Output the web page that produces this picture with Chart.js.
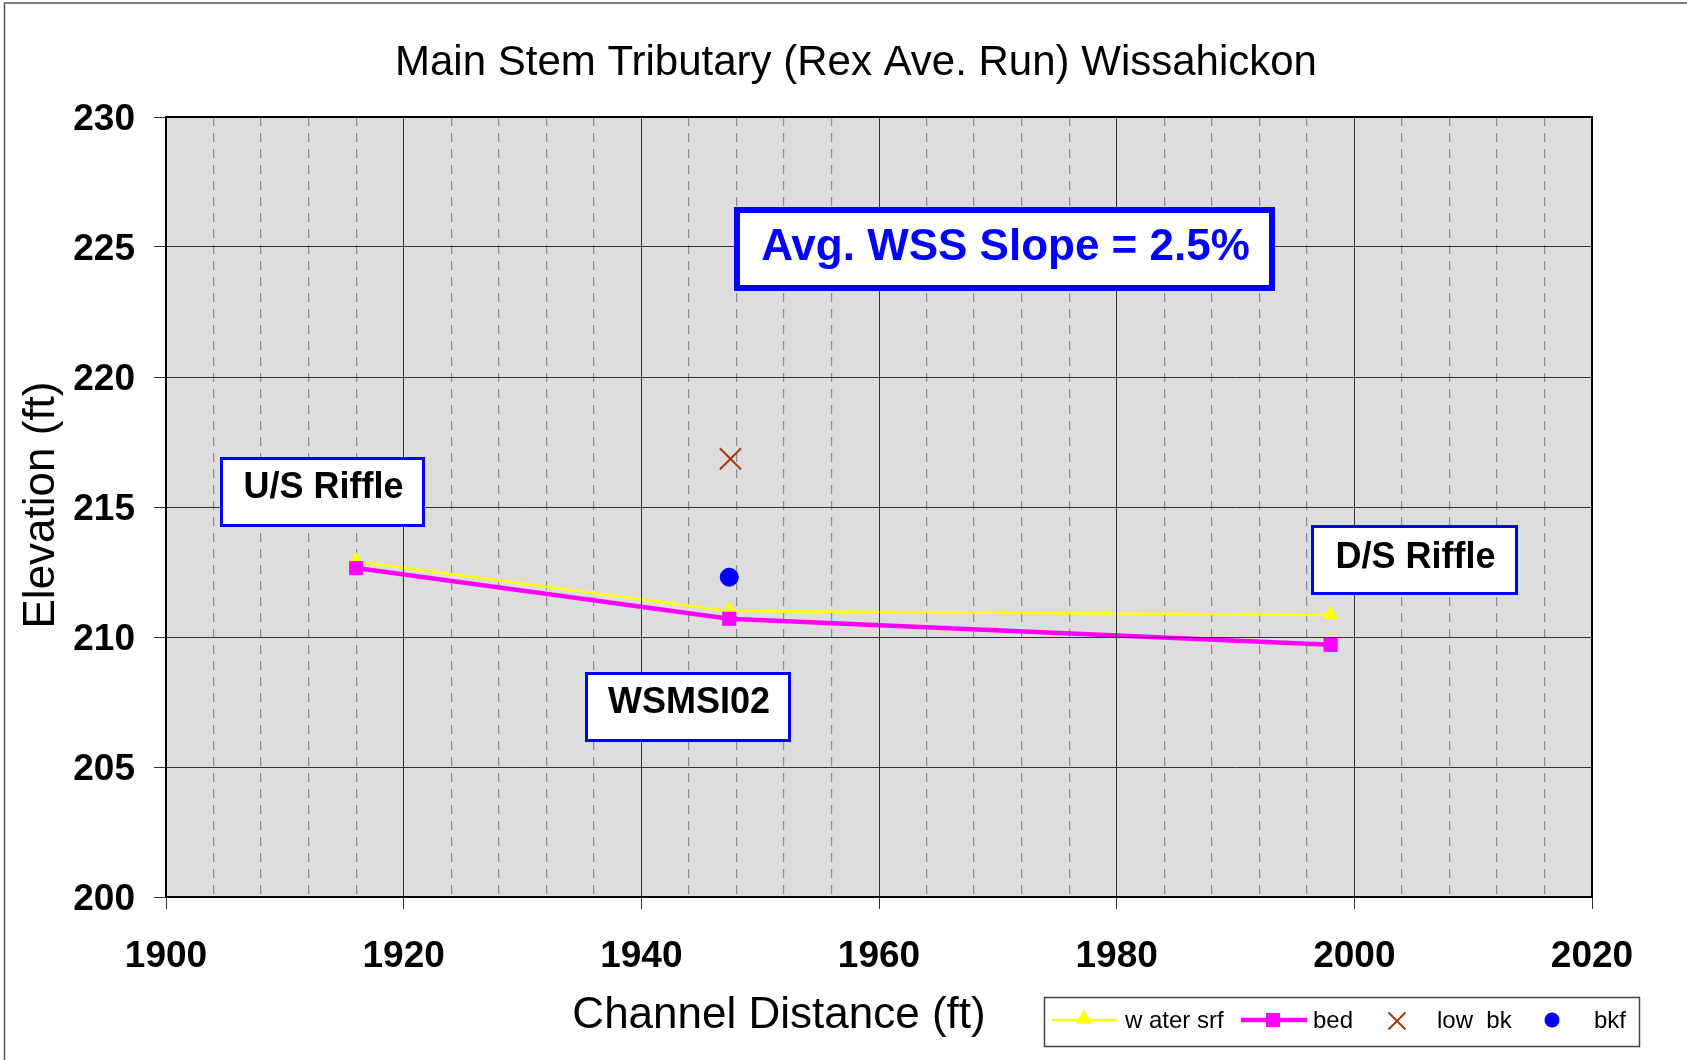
<!DOCTYPE html>
<html>
<head>
<meta charset="utf-8">
<title>Main Stem Tributary (Rex Ave. Run) Wissahickon</title>
<script src="https://cdn.jsdelivr.net/npm/chart.js@4.4.0/dist/chart.umd.min.js"></script>
<style>
  html, body { margin: 0; padding: 0; background: #fff; }
  canvas { display: block; }
</style>
</head>
<body>
<canvas id="profileChart" width="1687" height="1060"></canvas>
<script>
// Profile data (feet)
const stations = [1916, 1947.4, 1998];
const waterSurface = [212.9, 211.0, 210.85];
const bedElevation = [212.65, 210.7, 209.7];
const lowBankStation = [1947.5];
const lowBankElevation = [216.85];
const bankfullStation = [1947.4];
const bankfullElevation = [212.3];
const seriesNames = ['w ater srf', 'bed', 'low  bk', 'bkf'];
const xRange = [1900, 2020];
const yRange = [200, 230];
const chartTitle = 'Main Stem Tributary (Rex Ave. Run) Wissahickon';
const xTitle = 'Channel Distance (ft)';
const yTitle = 'Elevation (ft)';
const noteLabels = ['Avg. WSS Slope = 2.5%', 'U/S Riffle', 'WSMSI02', 'D/S Riffle'];

const FONT = "'Liberation Sans', Arial, Helvetica, sans-serif";

function toPoints(xs, ys) {
    return xs.map((x, i) => ({ x: x, y: ys[i] }));
}

function drawMarker(ctx, style, x, y, r, color, lw) {
    ctx.save();
    ctx.fillStyle = color;
    ctx.strokeStyle = color;
    ctx.lineWidth = lw || 1;
    ctx.beginPath();
    if (style === 'triangle') {
        ctx.moveTo(x, y - r);
        ctx.lineTo(x + r * 0.866, y + r / 2);
        ctx.lineTo(x - r * 0.866, y + r / 2);
        ctx.closePath();
        ctx.fill();
    } else if (style === 'rect') {
        const s = r * 0.707;
        ctx.fillRect(x - s, y - s, 2 * s, 2 * s);
    } else if (style === 'crossRot') {
        const d = r * 0.707;
        ctx.moveTo(x - d, y - d); ctx.lineTo(x + d, y + d);
        ctx.moveTo(x + d, y - d); ctx.lineTo(x - d, y + d);
        ctx.stroke();
    } else {
        ctx.arc(x, y, r, 0, Math.PI * 2);
        ctx.fill();
    }
    ctx.restore();
}

// background, frame, titles, text boxes and legend
const decorPlugin = {
    id: 'decor',
    beforeDraw(chart) {
        const { ctx, chartArea: a } = chart;
        ctx.save();
        ctx.fillStyle = '#ffffff';
        ctx.fillRect(0, 0, chart.width, chart.height);
        ctx.fillStyle = '#dddddd';
        ctx.fillRect(a.left, a.top, a.right - a.left, a.bottom - a.top);
        // outer frame (top and left only visible)
        ctx.strokeStyle = '#555';
        ctx.lineWidth = 1.5;
        ctx.beginPath();
        ctx.moveTo(4.5, chart.height);
        ctx.lineTo(4.5, 3);
        ctx.lineTo(chart.width, 3);
        ctx.stroke();
        ctx.restore();
    },
    afterDraw(chart) {
        const { ctx, chartArea: a } = chart;
        ctx.save();
        // plot frame
        ctx.strokeStyle = '#000';
        ctx.lineWidth = 2;
        ctx.strokeRect(a.left, a.top, a.right - a.left, a.bottom - a.top);

        // titles
        ctx.fillStyle = '#000';
        ctx.textAlign = 'center';
        ctx.textBaseline = 'alphabetic';
        ctx.font = '42px ' + FONT;
        ctx.fillText(chartTitle, 856, 75);
        ctx.font = '44px ' + FONT;
        ctx.fillText(xTitle, 779, 1028);
        ctx.save();
        ctx.translate(54, 505);
        ctx.rotate(-Math.PI / 2);
        ctx.fillText(yTitle, 0, 0);
        ctx.restore();

        // text boxes
        const boxes = [
            { text: noteLabels[0], l: 734, t: 207, r: 1275, b: 291, bw: 6, size: 44, color: '#0000ff', base: 260 },
            { text: noteLabels[1], l: 220, t: 457, r: 425, b: 527, bw: 3, size: 36, color: '#000', base: 498 },
            { text: noteLabels[2], l: 585, t: 672, r: 791, b: 742, bw: 3, size: 36, color: '#000', base: 713 },
            { text: noteLabels[3], l: 1311, t: 525, r: 1518, b: 595, bw: 3, size: 36, color: '#000', base: 568 }
        ];
        boxes.forEach(bx => {
            ctx.fillStyle = '#fff';
            ctx.fillRect(bx.l, bx.t, bx.r - bx.l, bx.b - bx.t);
            ctx.strokeStyle = '#0000ff';
            ctx.lineWidth = bx.bw;
            ctx.strokeRect(bx.l + bx.bw / 2, bx.t + bx.bw / 2, bx.r - bx.l - bx.bw, bx.b - bx.t - bx.bw);
            ctx.fillStyle = bx.color;
            ctx.font = 'bold ' + bx.size + 'px ' + FONT;
            ctx.textAlign = 'center';
            ctx.fillText(bx.text, (bx.l + bx.r) / 2 + 1, bx.base);
        });

        // legend
        ctx.fillStyle = '#fff';
        ctx.fillRect(1044, 997, 595, 49);
        ctx.strokeStyle = '#444';
        ctx.lineWidth = 1.5;
        ctx.strokeRect(1044.5, 997.5, 595, 49);
        const ly = 1020;
        const ds = chart.data.datasets;
        // water surface
        ctx.strokeStyle = ds[0].borderColor; ctx.lineWidth = 2.5;
        ctx.beginPath(); ctx.moveTo(1052, ly); ctx.lineTo(1117, ly); ctx.stroke();
        drawMarker(ctx, 'triangle', 1084, ly - 1, 9.5, ds[0].pointBackgroundColor);
        // bed
        ctx.strokeStyle = ds[1].borderColor; ctx.lineWidth = 4.5;
        ctx.beginPath(); ctx.moveTo(1241, ly); ctx.lineTo(1307, ly); ctx.stroke();
        drawMarker(ctx, 'rect', 1273, ly, 10, ds[1].pointBackgroundColor);
        drawMarker(ctx, 'crossRot', 1397, ly + 1, 12, ds[2].pointBorderColor, 2);
        drawMarker(ctx, 'circle', 1552, ly, 7.5, ds[3].pointBackgroundColor);
        ctx.fillStyle = '#000';
        ctx.font = '24px ' + FONT;
        ctx.textAlign = 'left';
        ctx.fillText(ds[0].label, 1125, 1028);
        ctx.fillText(ds[1].label, 1313, 1028);
        ctx.fillText(ds[2].label, 1437, 1028);
        ctx.fillText(ds[3].label, 1594, 1028);
        ctx.restore();
    }
};

const ctx = document.getElementById('profileChart').getContext('2d');
new Chart(ctx, {
    type: 'scatter',
    data: {
        datasets: [
            {
                label: seriesNames[0],
                data: toPoints(stations, waterSurface),
                showLine: true,
                borderColor: '#ffff00',
                borderWidth: 2.5,
                pointStyle: 'triangle',
                pointRadius: 9,
                pointBackgroundColor: '#ffff00',
                pointBorderColor: '#ffff00',
                pointBorderWidth: 1,
                order: 3
            },
            {
                label: seriesNames[1],
                data: toPoints(stations, bedElevation),
                showLine: true,
                borderColor: '#ff00ff',
                borderWidth: 4.5,
                pointStyle: 'rect',
                pointRadius: 10,
                pointBackgroundColor: '#ff00ff',
                pointBorderColor: '#ff00ff',
                pointBorderWidth: 0,
                order: 2
            },
            {
                label: seriesNames[2],
                data: toPoints(lowBankStation, lowBankElevation),
                showLine: false,
                pointStyle: 'crossRot',
                pointRadius: 15,
                pointBorderColor: '#a33c0c',
                pointBackgroundColor: '#a33c0c',
                pointBorderWidth: 2,
                order: 1
            },
            {
                label: seriesNames[3],
                data: toPoints(bankfullStation, bankfullElevation),
                showLine: false,
                pointStyle: 'circle',
                pointRadius: 9,
                pointBackgroundColor: '#0000ff',
                pointBorderColor: '#0000ff',
                pointBorderWidth: 1,
                order: 0
            }
        ]
    },
    options: {
        responsive: false,
        animation: false,
        events: [],
        layout: { padding: { top: 117, right: 95, bottom: 0, left: 0 } },
        plugins: {
            legend: { display: false },
            tooltip: { enabled: false },
            title: { display: false }
        },
        scales: {
            x: {
                type: 'linear',
                position: 'bottom',
                min: xRange[0],
                max: xRange[1],
                ticks: {
                    stepSize: 20,
                    maxTicksLimit: 100,
                    padding: 26,
                    color: '#000',
                    font: { family: FONT, size: 37, weight: 'bold' },
                    callback: v => String(v)
                },
                grid: { color: '#333', lineWidth: 1, tickLength: 12, tickColor: '#333', z: 1 },
                border: { display: false },
                afterFit: s => { s.height = 163; }
            },
            xMinor: {
                type: 'linear',
                position: 'bottom',
                min: xRange[0],
                max: xRange[1],
                ticks: { display: false, stepSize: 4, maxTicksLimit: 100 },
                grid: {
                    drawTicks: false,
                    lineWidth: 1.2,
                    color: c => (c.tick && c.tick.value % 20 === 0) ? 'rgba(0,0,0,0)' : '#8c8c8c'
                },
                border: { display: false, dash: [9, 7] },
                afterFit: s => { s.height = 0; }
            },
            y: {
                type: 'linear',
                min: yRange[0],
                max: yRange[1],
                ticks: {
                    stepSize: 5,
                    padding: 19,
                    labelOffset: 3,
                    color: '#000',
                    font: { family: FONT, size: 37, weight: 'bold' }
                },
                grid: { color: '#333', lineWidth: 1, tickLength: 12, tickColor: '#333', z: 1 },
                border: { display: false },
                afterFit: s => { s.width = 166; }
            }
        }
    },
    plugins: [decorPlugin]
});
</script>
</body>
</html>
